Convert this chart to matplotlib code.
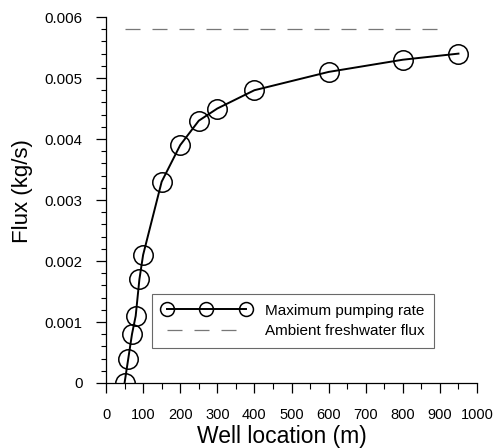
import matplotlib
matplotlib.use('Agg')
import matplotlib.pyplot as plt
from matplotlib.lines import Line2D
from matplotlib.ticker import MultipleLocator, FuncFormatter

plt.rcParams['font.family'] = ['Liberation Sans', 'DejaVu Sans']

# data
well_location = [50, 60, 70, 80, 90, 100, 150, 200, 250, 300, 400, 600, 800, 950]
max_pumping = [0.0, 0.0004, 0.0008, 0.0011, 0.0017, 0.0021, 0.0033, 0.0039,
               0.0043, 0.0045, 0.0048, 0.0051, 0.0053, 0.0054]
ambient_x = [50, 925]
ambient_flux = [0.0058, 0.0058]

fig = plt.figure(figsize=(4.94, 4.48), dpi=100)
ax = fig.add_axes([0.2146, 0.1451, 0.751, 0.8169])

ax.plot(well_location, max_pumping, color='black', lw=1.4, marker='o',
        markersize=14, markerfacecolor='none', markeredgecolor='black',
        markeredgewidth=1.1)
ax.plot(ambient_x, ambient_flux, color='#777777', lw=0.9, ls=(0, (12, 9.6)))

ax.set_xlim(0, 1000)
ax.set_ylim(0, 0.006)
ax.xaxis.set_major_locator(MultipleLocator(100))
ax.xaxis.set_minor_locator(MultipleLocator(50))
ax.yaxis.set_major_locator(MultipleLocator(0.001))
ax.yaxis.set_minor_locator(MultipleLocator(0.0002))
ax.yaxis.set_major_formatter(FuncFormatter(lambda v, p: '0' if v == 0 else f'{v:.3f}'))

for s in ['top', 'right']:
    ax.spines[s].set_visible(False)
ax.spines['left'].set_linewidth(0.9)
ax.spines['bottom'].set_linewidth(0.9)

ax.tick_params(axis='y', which='major', direction='out', length=7, width=0.9,
               pad=10, labelsize=10.8)
ax.tick_params(axis='y', which='minor', direction='out', length=3.5, width=0.8)
ax.tick_params(axis='x', which='major', direction='out', length=7, width=0.9,
               pad=11, labelsize=10.5)
ax.tick_params(axis='x', which='minor', direction='out', length=4, width=0.8)

ax.set_xlabel('Well location (m)', fontsize=16.5, va='top')
ax.xaxis.set_label_coords(0.475, -0.116)
ax.set_ylabel('Flux (kg/s)', fontsize=16, va='bottom')
ax.yaxis.set_label_coords(-0.196, 0.525)

# legend proxies: line and circles as separate handles overlaid
h_line = Line2D([], [], color='black', lw=1.4)
h_mark = Line2D([], [], ls='none', marker='o', markersize=10,
                markerfacecolor='none', markeredgecolor='black',
                markeredgewidth=1.1)
h_dash = Line2D([], [], color='#777777', lw=0.9, ls=(0, (12, 9.6)))
leg = ax.legend([(h_line, h_mark), h_dash],
                ['Maximum pumping rate', 'Ambient freshwater flux'],
                loc='lower left', bbox_to_anchor=(0.124, 0.0956), fontsize=11,
                handlelength=5.8, handletextpad=0.94, borderaxespad=0,
                frameon=True, fancybox=False, edgecolor='#444444',
                borderpad=0.65, labelspacing=0.42, numpoints=3)
leg.get_frame().set_linewidth(0.8)

fig.savefig('out.png', dpi=100)
